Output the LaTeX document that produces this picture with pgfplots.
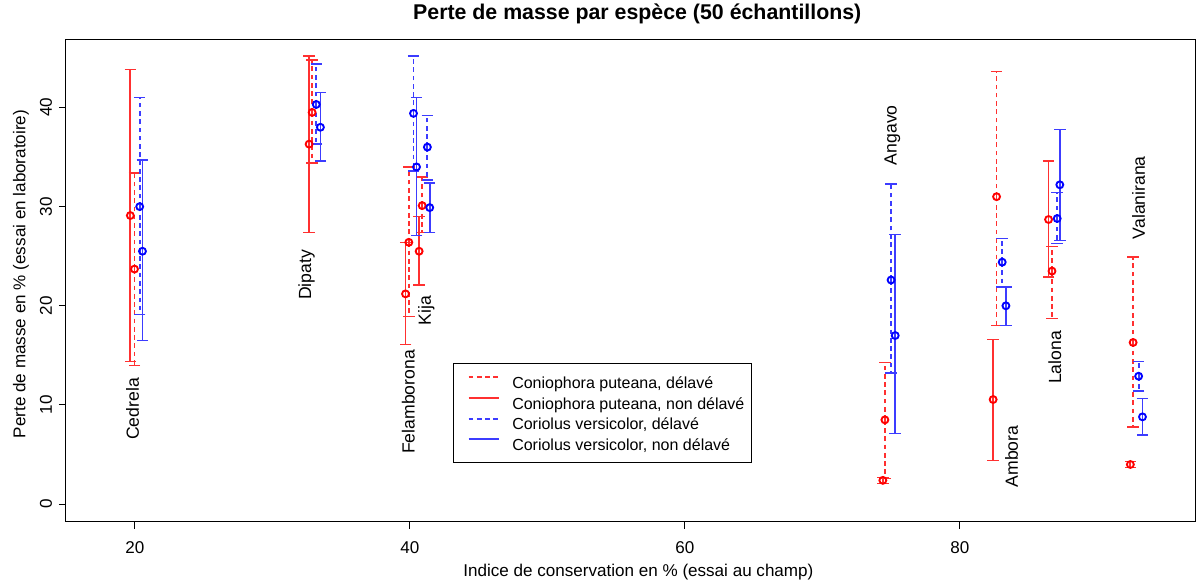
\documentclass[border=0pt]{standalone}
\usepackage{fontspec}
\setmainfont{Liberation Sans}
\usepackage{pgfplots}
\usepackage{pgfplotstable}
\pgfplotsset{compat=1.18}

% columns: x = indice de conservation, y = perte de masse, lo/hi = ends of the bar
\pgfplotstableread{
x      y     lo    hi
19.98  23.7  14.0  33.4
32.90  39.5  34.4  44.8
39.93  26.4  18.9  34.0
40.90  30.1  27.4  33.0
74.55   8.5   2.6  14.3
82.67  31.0  18.0  43.6
86.70  23.5  18.7  26.0
92.60  16.3   7.8  24.9
}\cpdel
\pgfplotstableread{
x      y     lo    hi
19.68  29.1  14.4  43.8
32.68  36.3  27.4  45.2
39.69  21.2  16.1  26.4
40.68  25.5  22.1  29.0
74.40   2.4   2.1   2.7
82.42  10.55  4.4  16.6
86.45  28.7  22.9  34.6
92.40   4.0   3.7   4.3
}\cpnon
\pgfplotstableread{
x      y     lo    hi
20.36  30.0  19.1  41.0
33.20  40.3  36.3  44.4
40.27  39.4  33.6  45.2
41.28  36.0  32.7  39.2
75.00  22.6  13.2  32.3
83.08  24.4  21.9  26.8
87.08  28.8  26.3  31.4
93.00  12.9  11.4  14.4
}\cvdel
\pgfplotstableread{
x      y     lo    hi
20.56  25.5  16.5  34.7
33.50  38.0  34.6  41.5
40.49  34.0  27.1  41.0
41.45  29.9  27.4  32.4
75.30  17.0   7.1  27.2
83.35  20.0  18.0  21.9
87.27  32.2  26.6  37.8
93.28   8.8   6.95 10.65
}\cvnon

\definecolor{lred}{HTML}{FF3030}
\definecolor{lblue}{HTML}{3C3CFF}
\tikzset{rdash/.style={dash pattern=on 3.5pt off 2.7pt}}
\newcommand{\lbl}{\fontsize{12.8}{15}\selectfont}
% one series: circle marks plus lo--hi bars, #1 mark colour, #2 bar colour, #3 extra bar style
\pgfplotsset{
  series/.style n args={3}{only marks, #1, mark=o, mark size=2.6pt,
    mark options={line width=1.4pt, solid, #1},
    error bars/error bar style={#2, line width=1.35pt, #3},
    error bars/error mark options={rotate=90, mark size=4.3pt, #2, line width=1.1pt, solid},
    forget plot},
}

\begin{document}
\begin{tikzpicture}
\begin{axis}[
    scale only axis,
    width=846.75pt, height=361.5pt,
    xmin=15, xmax=97.1, ymin=-1.8, ymax=46.8,
    xtick={20,40,60,80}, ytick={0,10,20,30,40},
    xtick pos=left, ytick pos=left,
    tick align=outside, major tick length=5.25pt,
    axis line style={black, line width=0.75pt},
    tick style={black, line width=0.75pt},
    /pgf/number format/assume math mode=true,
    tick label style={font=\lbl},
    xticklabel style={anchor=north, inner sep=0pt},
    xticklabel shift=9pt,
    yticklabel style={rotate=90, anchor=south, inner sep=0pt},
    yticklabel shift=5pt,
    title={Perte de masse par espèce (50 échantillons)},
    title style={font=\fontsize{16}{18}\selectfont\bfseries, at={(axis description cs:0.506,1.038)}, anchor=center},
    xlabel={Indice de conservation en \% (essai au champ)},
    xlabel style={font=\lbl, at={(axis description cs:0.507,-0.104)}, anchor=center},
    ylabel={Perte de masse en \% (essai en laboratoire)},
    ylabel style={font=\lbl, at={(axis description cs:-0.0399,0.5145)}, anchor=center},
    legend style={at={(0.3428,0.3293)}, anchor=north west, draw=black, line width=0.75pt,
        fill=white, font=\fontsize{12}{14}\selectfont, inner xsep=5pt, inner ysep=6pt, row sep=0pt,
        nodes={inner sep=0pt, text height=12.5pt, text depth=3pt}},
    legend cell align=left,
    legend image code/.code={\path (0pt,0pt); \draw[line width=1.35pt,#1] (6pt,3.6pt) -- (28.5pt,3.6pt);},
    /tikz/every odd column/.append style={column sep=9.5pt},
    error bars/y dir=both, error bars/y explicit,
    clip=false,
]
\addlegendimage{lred, rdash}
\addlegendentry{Coniophora puteana, délavé}
\addlegendimage{lred}
\addlegendentry{Coniophora puteana, non délavé}
\addlegendimage{lblue, rdash}
\addlegendentry{Coriolus versicolor, délavé}
\addlegendimage{lblue}
\addlegendentry{Coriolus versicolor, non délavé}

\addplot[series={red}{lred}{rdash}]
    table[x=x, y=y, y error plus expr=\thisrow{hi}-\thisrow{y}, y error minus expr=\thisrow{y}-\thisrow{lo}] {\cpdel};
\addplot[series={red}{lred}{solid}]
    table[x=x, y=y, y error plus expr=\thisrow{hi}-\thisrow{y}, y error minus expr=\thisrow{y}-\thisrow{lo}] {\cpnon};
\addplot[series={blue}{lblue}{rdash}]
    table[x=x, y=y, y error plus expr=\thisrow{hi}-\thisrow{y}, y error minus expr=\thisrow{y}-\thisrow{lo}] {\cvdel};
\addplot[series={blue}{lblue}{solid}]
    table[x=x, y=y, y error plus expr=\thisrow{hi}-\thisrow{y}, y error minus expr=\thisrow{y}-\thisrow{lo}] {\cvnon};

\begin{scope}[every node/.style={rotate=90, font=\fontsize{13.2}{15}\selectfont}]
\node at (axis cs:19.85,9.6) {Cedrela};
\node at (axis cs:32.5,23.1) {Dipaty};
\node at (axis cs:39.9,10.3) {Felamborona};
\node at (axis cs:41.2,19.5) {Kija};
\node at (axis cs:75.1,37.2) {Angavo};
\node at (axis cs:83.76,4.8) {Ambora};
\node at (axis cs:86.9,14.8) {Lalona};
\node at (axis cs:93.0,30.9) {Valanirana};
\end{scope}

\coordinate (sw) at (rel axis cs:0,0);
\coordinate (ne) at (rel axis cs:1,1);
\end{axis}
\pgfresetboundingbox
\path ([shift={(-49.5pt,-45.75pt)}]sw) rectangle ([shift={(4.5pt,30pt)}]ne);
\end{tikzpicture}
\end{document}
